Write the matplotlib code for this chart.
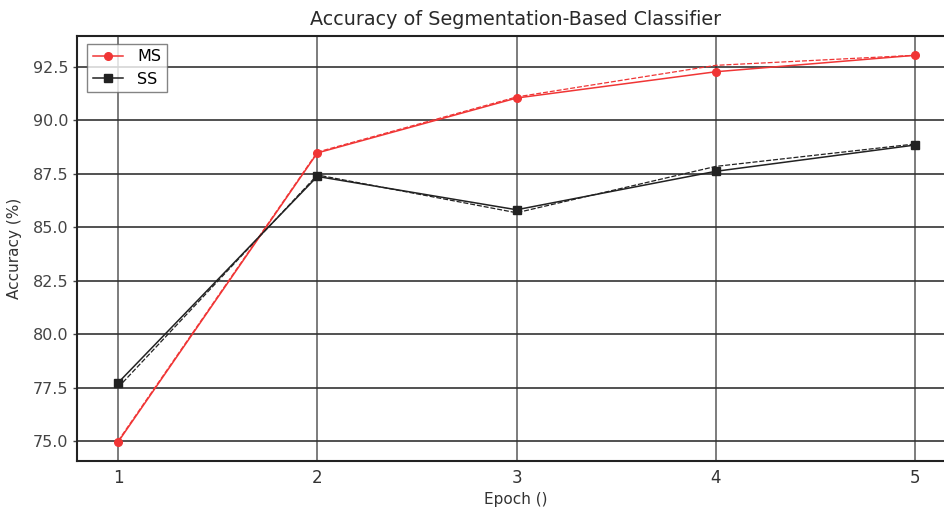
import matplotlib
matplotlib.use("Agg")
import matplotlib.pyplot as plt

# data
epochs = [1, 2, 3, 4, 5]
ms_acc = [74.95, 88.48, 91.05, 92.28, 93.05]
ms_acc_alt = [75.0, 88.52, 91.1, 92.58, 93.05]
ss_acc = [77.72, 87.38, 85.82, 87.62, 88.85]
ss_acc_alt = [77.5, 87.45, 85.68, 87.85, 88.9]
y_ticks = [75.0, 77.5, 80.0, 82.5, 85.0, 87.5, 90.0, 92.5]

RED = "#f03535"
DARK = "#222222"

fig = plt.figure(figsize=(9.44, 5.08), dpi=100)
ax = fig.add_axes([0.0816, 0.0925, 0.93, 0.8365])

# thin dashed companion traces
ax.plot(epochs, ms_acc_alt, color=RED, lw=0.9, ls=(0, (4, 1.5)), zorder=3)
ax.plot(epochs, ss_acc_alt, color=DARK, lw=0.9, ls=(0, (4, 1.5)), zorder=3)

ax.plot(epochs, ms_acc, color=RED, lw=1.1, marker="o", ms=5.5, label="MS", zorder=4)
ax.plot(epochs, ss_acc, color=DARK, lw=1.1, marker="s", ms=5.5, label="SS", zorder=4)

ax.set_xlim(0.794, 5.2)
ax.set_ylim(74.06, 93.95)
ax.set_xticks(epochs)
ax.set_yticks(y_ticks)
ax.set_yticklabels([f"{v:.1f}" for v in y_ticks])

ax.grid(True, axis="y", color="#333333", lw=1.2)
ax.grid(True, axis="x", color="#666666", lw=1.2)
ax.set_axisbelow(True)

for side in ["left", "bottom", "top"]:
    ax.spines[side].set_color("#222222")
    ax.spines[side].set_linewidth(1.5)
ax.spines["right"].set_visible(False)

ax.tick_params(axis="y", colors="#444444", labelsize=11.5, length=3, width=1.0, pad=3)
ax.tick_params(axis="x", colors="#444444", labelsize=12, labelcolor="#333333",
               length=0, pad=6)

ax.set_xlabel("Epoch ()", fontsize=11, color="#333333", labelpad=3)
ax.set_ylabel("Accuracy (%)", fontsize=11, color="#333333", labelpad=8)
ax.set_title("Accuracy of Segmentation-Based Classifier", fontsize=13.8,
             color="#2a2a2a", pad=8)

leg = ax.legend(loc="upper left", bbox_to_anchor=(0.006, 0.993), fontsize=11.5,
                frameon=True, fancybox=False, borderpad=0.35, handlelength=1.9,
                handletextpad=0.9, labelspacing=0.45, borderaxespad=0.3)
leg.get_frame().set_edgecolor("#666666")
leg.get_frame().set_linewidth(1.0)

fig.savefig("out.png", dpi=100)
